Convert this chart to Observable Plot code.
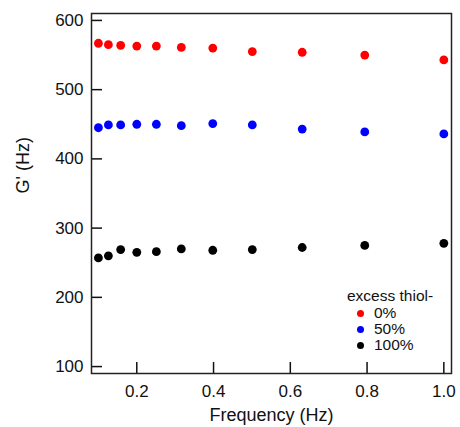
<!DOCTYPE html>
<html>
<head>
<meta charset="utf-8">
<script src="https://cdn.jsdelivr.net/npm/d3@7"></script>
<script src="https://cdn.jsdelivr.net/npm/@observablehq/plot@0.6"></script>
<style>
  html, body { margin: 0; padding: 0; background: #fff; }
  #wrap { position: relative; width: 460px; height: 427px; font-family: "Liberation Sans", Arial, Helvetica, sans-serif; }
  #legend { position: absolute; left: 347px; top: 288px; font-size: 15.5px; color: #111; line-height: 16px; }
  #legend .row { display: flex; align-items: center; height: 16px; }
  #legend .dot { width: 7px; height: 7px; border-radius: 50%; margin-left: 10px; margin-right: 10px; }
</style>
</head>
<body>
<div id="wrap"></div>
<script>
const frequency = [0.1, 0.126, 0.158, 0.2, 0.251, 0.316, 0.398, 0.501, 0.631, 0.794, 1.0];
const seriesNames = ["0%", "50%", "100%"];
const seriesColors = ["#ff0000", "#0000ff", "#000000"];
const g0 = [567, 565, 564, 563, 563, 561, 560, 555, 554, 550, 543];
const g50 = [445, 449, 449, 450, 450, 448, 451, 449, 443, 439, 436];
const g100 = [257, 260, 269, 265, 266, 270, 268, 269, 272, 275, 278];
const xTicks = [0.2, 0.4, 0.6, 0.8, 1.0];
const yTicks = [100, 200, 300, 400, 500, 600];
const xLabel = "Frequency (Hz)";
const yLabel = "G' (Hz)";
const legendTitle = "excess thiol-";

const seriesValues = [g0, g50, g100];
const data = seriesValues.flatMap((vals, s) =>
  vals.map((v, i) => ({f: frequency[i], g: v, series: seriesNames[s]}))
);

const chart = Plot.plot({
  width: 460,
  height: 427,
  marginLeft: 91,
  marginRight: 9,
  marginTop: 13,
  marginBottom: 54,
  style: {fontFamily: "'Liberation Sans', Arial, Helvetica, sans-serif", background: "#fff", color: "#111"},
  x: {domain: [0.082, 1.02]},
  y: {domain: [90, 610]},
  color: {domain: seriesNames, range: seriesColors},
  marks: [
    Plot.axisY({ticks: yTicks, tickSize: 0, tickPadding: 8, fontSize: 17, label: null}),
    Plot.axisY({ticks: yTicks, tickSize: 11, dx: 11, text: null, label: null, strokeWidth: 1.5}),
    Plot.axisX({ticks: xTicks, tickSize: 0, tickPadding: 11, fontSize: 17, tickFormat: d3.format(".1f"), label: null}),
    Plot.axisX({ticks: xTicks, tickSize: 11, dy: -11, text: null, label: null, strokeWidth: 1.5}),
    Plot.text([xLabel], {text: d => d, frameAnchor: "bottom", lineAnchor: "bottom", dy: 47, fontSize: 18, fill: "#111"}),
    Plot.text([yLabel], {text: d => d, frameAnchor: "left", lineAnchor: "top", rotate: -90, dx: -75, fontSize: 18, fill: "#111"}),
    Plot.dot(data, {x: "f", y: "g", fill: "series", r: 4.4}),
    Plot.frame({stroke: "#222", strokeWidth: 1.5})
  ]
});
const wrap = document.getElementById("wrap");
wrap.appendChild(chart);

const legend = document.createElement("div");
legend.id = "legend";
const title = document.createElement("div");
title.textContent = legendTitle;
title.style.marginBottom = "1px";
legend.appendChild(title);
seriesNames.forEach((n, i) => {
  const row = document.createElement("div");
  row.className = "row";
  const d = document.createElement("span");
  d.className = "dot";
  d.style.background = seriesColors[i];
  const t = document.createElement("span");
  t.textContent = n;
  row.appendChild(d); row.appendChild(t);
  legend.appendChild(row);
});
wrap.appendChild(legend);
</script>
</body>
</html>
